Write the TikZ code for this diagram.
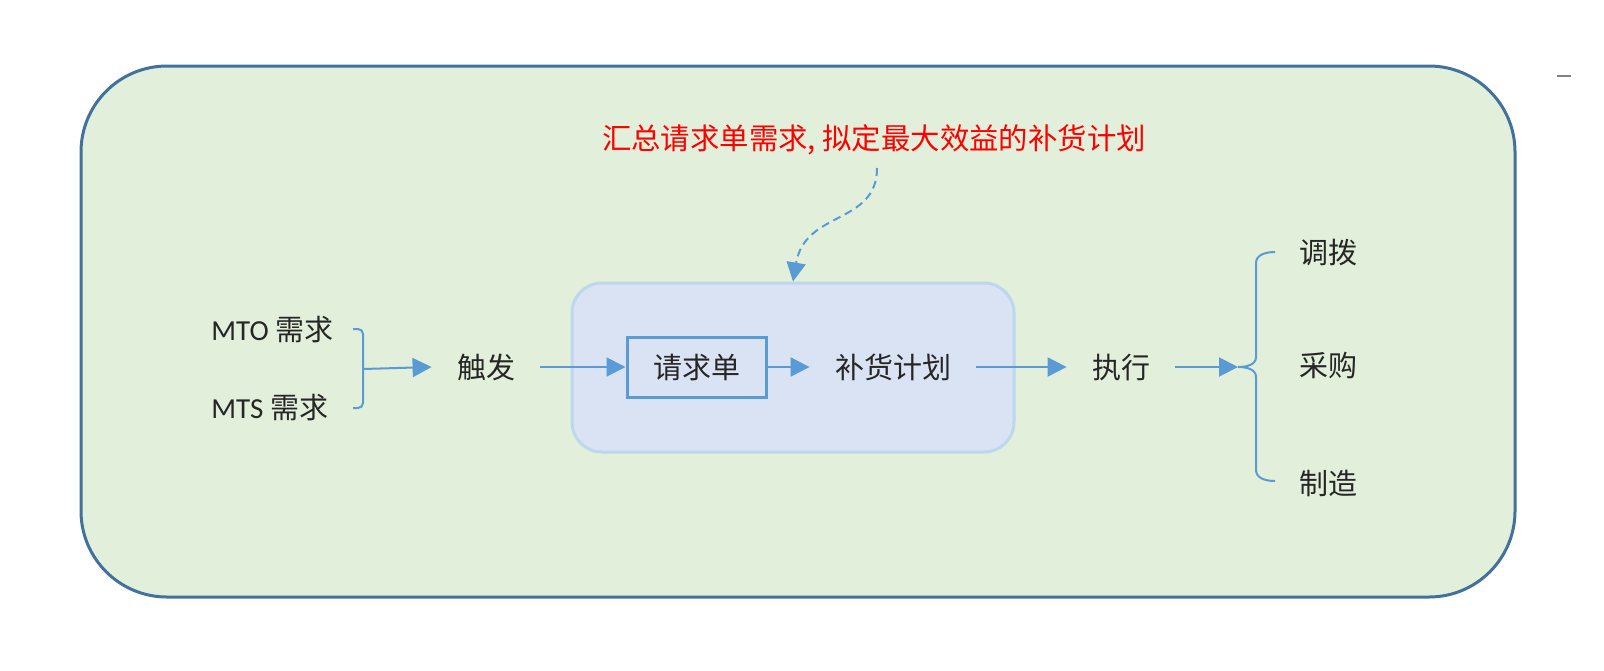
\documentclass[tikz,border=0pt]{standalone}
\usepackage{fontspec}
\setmainfont{Carlito}
\newfontfamily\cjk{Noto Sans CJK SC}
\usetikzlibrary{positioning,arrows.meta}
\definecolor{PGreen}{HTML}{E2EFDA}
\definecolor{PFrame}{HTML}{41719C}
\definecolor{PBlue}{HTML}{DAE3F3}
\definecolor{PEdge}{HTML}{BDD7EE}
\definecolor{PArrow}{HTML}{5B9BD5}
\definecolor{PInk}{HTML}{262626}
\definecolor{PRed}{HTML}{FF0000}
\begin{document}
\begin{tikzpicture}[x=0.5pt,y=-0.5pt,
  every node/.style={font=\fontsize{14.5}{17}\selectfont, text=PInk, inner sep=0pt},
  frame/.style={draw=PFrame, fill=PGreen, line width=1.5pt, rounded corners=43pt,
                minimum width=717pt, minimum height=265.5pt},
  hubbox/.style={draw=PEdge, fill=PBlue, line width=1.5pt, rounded corners=15pt,
                 minimum width=221pt, minimum height=84.5pt},
  reqbox/.style={draw=PArrow, line width=1.5pt, minimum width=69.5pt, minimum height=30pt},
  stage/.style={inner xsep=12.5pt, inner ysep=2pt},
  demand/.style={anchor=west},
  note/.style={text=PRed, font=\fontsize{14.7}{17}\selectfont},
  brace/.style={draw=PArrow, line width=1pt, rounded corners=2.5pt},
  arrow/.style={-{Triangle[length=9.5pt,width=9.5pt]}, draw=PArrow, line width=1pt}]
\fill[white] (0,0) rectangle (1604,670);
\useasboundingbox (0,0) rectangle (1604,670);
\node[frame]  (frame) at (798,331.5) {};
\node[hubbox] (hub)   at (793,367.5) {};
\node[reqbox] (req)   at (696.5,367) {\cjk 请求单};
\node[stage]  (plan)  at (893,367)   {\cjk 补货计划};
\node[stage]  (trig)  at (486,367)   {\cjk 触发};
\node[stage]  (exec)  at (1121,367)  {\cjk 执行};
\node[demand] (mto)   at (211,330)   {MTO \cjk 需求};
\node[demand] (mts)   at (211,408)   {MTS \cjk 需求};
\node (move) at (1328,253) {\cjk 调拨};
\node (buy)  at (1328,365) {\cjk 采购};
\node (make) at (1328,483) {\cjk 制造};
\node[note] (summary) at (874,140) {\cjk 汇总请求单需求, 拟定最大效益的补货计划};
\draw[gray, line width=1pt] (1557,76) -- (1571,76);
% brackets
\coordinate (lb) at (363,369);
\coordinate (rb) at (1238,367);
\draw[brace] (353,329) -- (363,329) -- (363,408) -- (353,408);
\draw[brace, rounded corners=0pt] (1275,252) to[out=180,in=90] (1256,263) -- (1256,357)
  to[out=-90,in=0] (rb) to[out=0,in=90] (1256,377) -- (1256,470) to[out=-90,in=180] (1275,481);
% flow
\draw[arrow] (lb) -- (trig.west);
\draw[arrow] (trig) -- (req);
\draw[arrow] (req) -- (plan);
\draw[arrow] (plan) -- (exec);
\draw[arrow] (exec) -- (rb);
\coordinate (ntail) at (877,168);
\draw[arrow, dash pattern=on 4pt off 2.5pt] (ntail) .. controls (877,225) and (805,210) .. (hub.north);
\end{tikzpicture}
\end{document}
